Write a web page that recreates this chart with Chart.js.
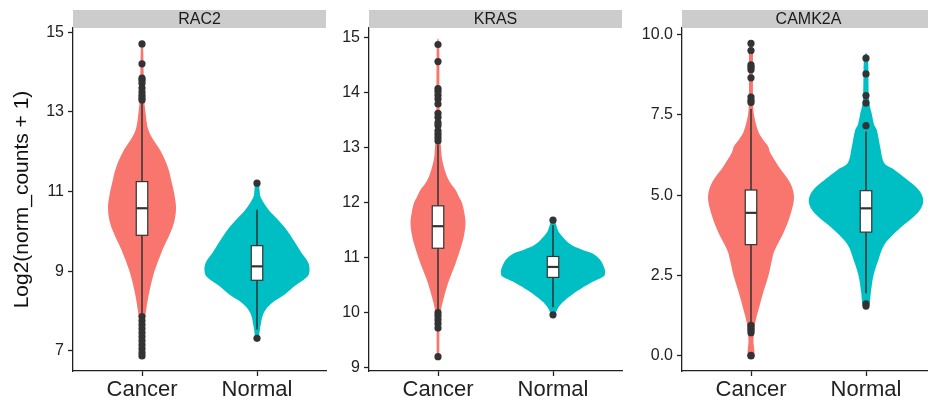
<!DOCTYPE html>
<html>
<head>
<meta charset="utf-8">
<script src="https://cdn.jsdelivr.net/npm/chart.js@4.4.1/dist/chart.umd.min.js"></script>
<style>
  html, body { margin: 0; padding: 0; background: #fff; overflow: hidden; }
  #wrap { position: relative; width: 928px; height: 406px; overflow: hidden; }
  canvas { position: absolute; top: 0; }
</style>
</head>
<body>
<div id="wrap">
  <canvas id="c1" width="330" height="406" style="left:0"></canvas>
  <canvas id="c2" width="296" height="406" style="left:330px"></canvas>
  <canvas id="c3" width="313" height="406" style="left:626px"></canvas>
</div>
<script>
const groups = ['Cancer', 'Normal'];
const groupColors = ['#F8766D', '#00BFC4'];

// RAC2
const rac2Ticks = [7, 9, 11, 13, 15];
const rac2CancerBox = [7.95, 9.9, 10.58, 11.25, 13.28];   // lower whisker, q1, median, q3, upper whisker
const rac2NormalBox = [7.53, 8.77, 9.12, 9.64, 10.54];
const rac2CancerOut = [14.71, 14.21, 13.85, 13.8, 13.72, 13.6, 13.5, 13.42, 13.35, 13.3,
                       7.86, 7.75, 7.65, 7.55, 7.45, 7.35, 7.25, 7.15, 7.05, 6.95, 6.87];
const rac2NormalOut = [11.21, 7.31];
const rac2CancerDensY = [6.87, 7.2, 7.6, 8.0, 8.5, 9.0, 9.5, 10.0, 10.3, 10.6, 10.9, 11.2, 11.6, 12.0, 12.5, 13.0, 13.4, 14.0, 14.71];
const rac2CancerDensW = [0.008, 0.012, 0.018, 0.035, 0.065, 0.109, 0.174, 0.252, 0.285, 0.296, 0.283, 0.261, 0.226, 0.165, 0.061, 0.03, 0.018, 0.014, 0.008];
const rac2NormalDensY = [7.3, 7.6, 7.95, 8.2, 8.4, 8.63, 8.85, 9.05, 9.25, 9.47, 9.7, 9.9, 10.1, 10.3, 10.5, 10.72, 10.88, 11.05, 11.21];
const rac2NormalDensW = [0.013, 0.029, 0.058, 0.13, 0.235, 0.33, 0.435, 0.457, 0.44, 0.385, 0.335, 0.29, 0.24, 0.18, 0.113, 0.058, 0.029, 0.022, 0.013];

// KRAS
const krasTicks = [9, 10, 11, 12, 13, 14, 15];
const krasCancerBox = [10.05, 11.17, 11.57, 11.94, 13.05];
const krasNormalBox = [10.1, 10.64, 10.83, 11.02, 11.59];
const krasCancerOut = [14.87, 14.56, 14.07, 14.02, 13.95, 13.88, 13.79, 13.62, 13.55, 13.45, 13.4, 13.3, 13.24, 13.18, 13.12,
                       10.0, 9.94, 9.87, 9.8, 9.72, 9.2];
const krasNormalOut = [11.68, 9.96];
const krasCancerDensY = [9.2, 9.7, 10.04, 10.28, 10.59, 10.89, 11.19, 11.4, 11.62, 11.8, 11.99, 12.1, 12.23, 12.37, 12.51, 12.77, 13.0, 13.3, 14.0, 14.87];
const krasCancerDensW = [0.01, 0.013, 0.026, 0.052, 0.096, 0.152, 0.2, 0.226, 0.239, 0.23, 0.209, 0.183, 0.152, 0.104, 0.072, 0.037, 0.026, 0.017, 0.013, 0.01];
const krasNormalDensY = [9.96, 10.1, 10.22, 10.4, 10.53, 10.65, 10.72, 10.8, 10.95, 11.07, 11.15, 11.25, 11.44, 11.58, 11.68];
const krasNormalDensW = [0.013, 0.048, 0.102, 0.217, 0.319, 0.435, 0.452, 0.448, 0.413, 0.348, 0.243, 0.145, 0.058, 0.03, 0.013];

// CAMK2A
const camk2aTicks = [0, 2.5, 5, 7.5, 10];
const camk2aCancerBox = [1.05, 3.46, 4.45, 5.16, 7.68];
const camk2aNormalBox = [1.95, 3.85, 4.59, 5.14, 6.98];
const camk2aCancerOut = [9.72, 9.5, 9.05, 8.98, 8.9, 8.65, 8.05, 7.95, 7.88, 0.95, 0.87, 0.8, 0.72, 0.02, 0.0];
const camk2aNormalOut = [9.26, 8.77, 8.1, 7.87, 7.16, 1.62, 1.55];
const camk2aCancerDensY = [0.0, 0.1, 0.3, 0.5, 1.0, 1.5, 2.0, 2.5, 3.0, 3.31, 3.83, 4.35, 4.92, 5.39, 5.9, 6.3, 6.52, 6.73, 7.0, 7.5, 8.0, 9.0, 9.72];
const camk2aCancerDensW = [0.017, 0.03, 0.025, 0.022, 0.035, 0.07, 0.109, 0.152, 0.183, 0.209, 0.283, 0.339, 0.374, 0.339, 0.239, 0.17, 0.148, 0.104, 0.061, 0.026, 0.018, 0.017, 0.015];
const camk2aNormalDensY = [1.55, 2.0, 2.5, 3.0, 3.49, 4.0, 4.25, 4.5, 4.76, 5.0, 5.25, 5.51, 5.8, 6.01, 6.52, 7.0, 7.2, 7.5, 8.0, 9.26];
const camk2aNormalDensW = [0.026, 0.043, 0.065, 0.109, 0.165, 0.304, 0.39, 0.461, 0.496, 0.487, 0.435, 0.348, 0.243, 0.157, 0.122, 0.096, 0.07, 0.052, 0.026, 0.017];

const FONT = '"Liberation Sans", Arial, Helvetica, sans-serif';
const INK = '#222222';

const panels = [
  { id: 'c1', title: 'RAC2', min: 6.49, max: 15.11, ticks: rac2Ticks, dec: 0, yWidth: 73, yTitle: true,
    dens: [[rac2CancerDensY, rac2CancerDensW], [rac2NormalDensY, rac2NormalDensW]],
    boxes: [rac2CancerBox, rac2NormalBox], outs: [rac2CancerOut, rac2NormalOut] },
  { id: 'c2', title: 'KRAS', min: 8.94, max: 15.17, ticks: krasTicks, dec: 0, yWidth: 39, yTitle: false,
    dens: [[krasCancerDensY, krasCancerDensW], [krasNormalDensY, krasNormalDensW]],
    boxes: [krasCancerBox, krasNormalBox], outs: [krasCancerOut, krasNormalOut] },
  { id: 'c3', title: 'CAMK2A', min: -0.47, max: 10.2, ticks: camk2aTicks, dec: 1, yWidth: 56, yTitle: false,
    dens: [[camk2aCancerDensY, camk2aCancerDensW], [camk2aNormalDensY, camk2aNormalDensW]],
    boxes: [camk2aCancerBox, camk2aNormalBox], outs: [camk2aCancerOut, camk2aNormalOut] }
];

// strip on top of each panel
const stripPlugin = {
  id: 'strip',
  afterDraw(chart, args, opts) {
    const {ctx, chartArea} = chart;
    ctx.save();
    ctx.fillStyle = '#cccccc';
    ctx.fillRect(chartArea.left, 10, chartArea.right - chartArea.left, 18);
    ctx.fillStyle = '#1a1a1a';
    ctx.font = '16px ' + FONT;
    ctx.textAlign = 'center';
    ctx.textBaseline = 'middle';
    ctx.fillText(opts.text, (chartArea.left + chartArea.right) / 2, 19.5);
    ctx.restore();
  }
};

// violins + boxplots, drawn under the outlier points
const violinPlugin = {
  id: 'violins',
  beforeDatasetsDraw(chart, args, opts) {
    const {ctx, scales: {x, y}} = chart;
    ctx.save();
    opts.dens.forEach((d, i) => {
      const cx = i + 1;
      const ys = d[0], ws = d[1];
      const left = ys.map((v, k) => [x.getPixelForValue(cx - ws[k]), y.getPixelForValue(v)]);
      const right = ys.map((v, k) => [x.getPixelForValue(cx + ws[k]), y.getPixelForValue(v)]).reverse();
      const pts = left.concat(right);
      const n = pts.length;
      const P = k => pts[(k + n) % n];
      ctx.fillStyle = groupColors[i];
      ctx.beginPath();
      ctx.moveTo(pts[0][0], pts[0][1]);
      // closed catmull-rom curve through the outline points
      for (let k = 0; k < n; k++) {
        const p0 = P(k - 1), p1 = P(k), p2 = P(k + 1), p3 = P(k + 2);
        ctx.bezierCurveTo(
          p1[0] + (p2[0] - p0[0]) / 6, p1[1] + (p2[1] - p0[1]) / 6,
          p2[0] - (p3[0] - p1[0]) / 6, p2[1] - (p3[1] - p1[1]) / 6,
          p2[0], p2[1]);
      }
      ctx.closePath();
      ctx.fill();
    });
    opts.boxes.forEach((b, i) => {
      const px = x.getPixelForValue(i + 1);
      const hw = x.getPixelForValue(i + 1.05) - px;
      ctx.strokeStyle = '#333333';
      ctx.lineWidth = 1.5;
      ctx.beginPath();
      ctx.moveTo(px, y.getPixelForValue(b[0]));
      ctx.lineTo(px, y.getPixelForValue(b[1]));
      ctx.moveTo(px, y.getPixelForValue(b[3]));
      ctx.lineTo(px, y.getPixelForValue(b[4]));
      ctx.stroke();
      const top = y.getPixelForValue(b[3]);
      const bot = y.getPixelForValue(b[1]);
      ctx.fillStyle = '#ffffff';
      ctx.fillRect(px - hw, top, hw * 2, bot - top);
      ctx.lineWidth = 1.2;
      ctx.strokeRect(px - hw, top, hw * 2, bot - top);
      ctx.lineWidth = 2.2;
      ctx.beginPath();
      const my = y.getPixelForValue(b[2]);
      ctx.moveTo(px - hw, my);
      ctx.lineTo(px + hw, my);
      ctx.stroke();
    });
    ctx.restore();
  }
};

panels.forEach(p => {
  const ctx = document.getElementById(p.id).getContext('2d');
  new Chart(ctx, {
    type: 'scatter',
    data: {
      datasets: p.outs.map((vals, i) => ({
        data: vals.map(v => ({x: i + 1, y: v})),
        pointRadius: 3.6,
        pointBackgroundColor: '#333333',
        pointBorderWidth: 0,
        pointHoverRadius: 3.6
      }))
    },
    options: {
      responsive: false,
      animation: false,
      events: [],
      layout: { padding: { left: 0, right: 4, top: 28, bottom: 0 } },
      plugins: {
        legend: { display: false },
        tooltip: { enabled: false },
        strip: { text: p.title },
        violins: { dens: p.dens, boxes: p.boxes }
      },
      scales: {
        x: {
          type: 'linear',
          min: 0.4,
          max: 2.6,
          afterBuildTicks: s => { s.ticks = [{value: 1}, {value: 2}]; },
          afterFit: s => { s.height = 35; },
          ticks: {
            callback: (v, idx) => groups[idx],
            font: { size: 22, family: FONT },
            color: INK,
            padding: 1,
            maxRotation: 0,
            autoSkip: false
          },
          grid: { drawOnChartArea: false, tickLength: 5, tickColor: INK, tickWidth: 1.3 },
          border: { color: INK, width: 1.3 }
        },
        y: {
          min: p.min,
          max: p.max,
          afterBuildTicks: s => { s.ticks = p.ticks.map(v => ({value: v})); },
          afterFit: s => { s.width = p.yWidth; },
          ticks: {
            callback: v => Number(v).toFixed(p.dec),
            font: { size: 16, family: FONT },
            color: INK,
            padding: 4
          },
          grid: { drawOnChartArea: false, tickLength: 5, tickColor: INK, tickWidth: 1.3 },
          border: { color: INK, width: 1.3 },
          title: {
            display: p.yTitle,
            text: 'Log2(norm_counts + 1)',
            font: { size: 21, family: FONT },
            color: '#111111',
            padding: { top: 10, bottom: 0 }
          }
        }
      }
    },
    plugins: [violinPlugin, stripPlugin]
  });
});
</script>
</body>
</html>
